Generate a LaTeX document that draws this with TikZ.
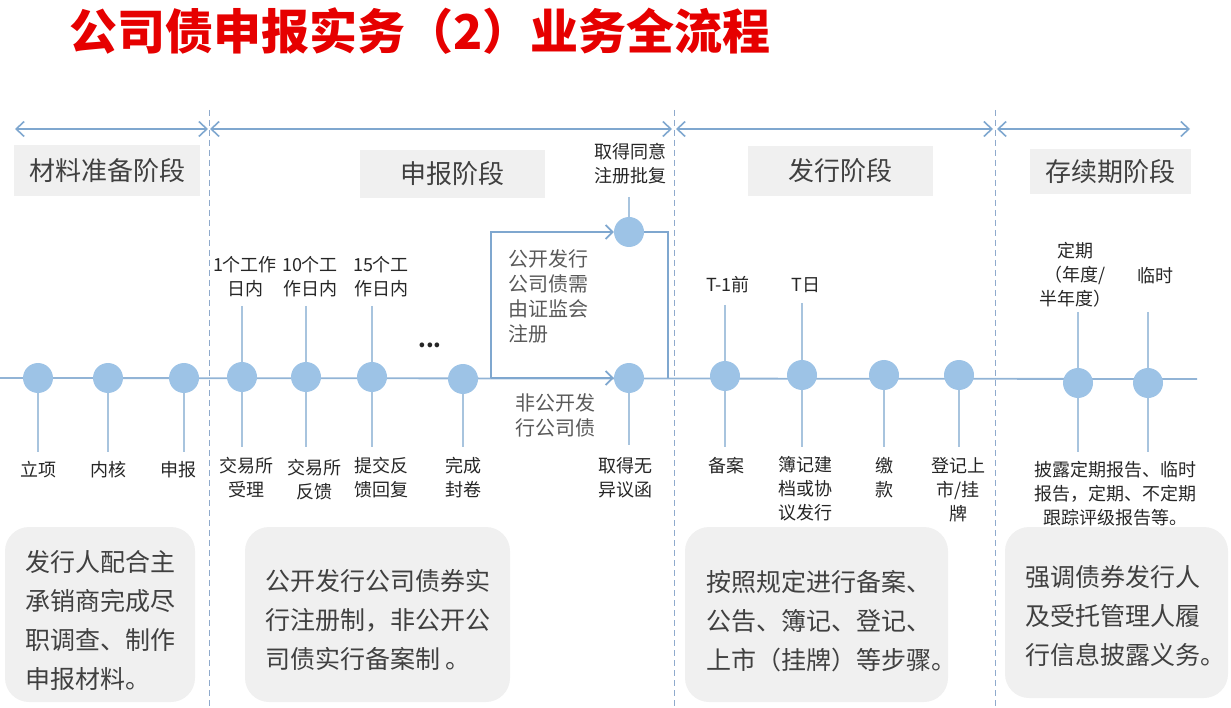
\documentclass[tikz,border=0pt]{standalone}
\usepackage{fontspec}
\setmainfont{Noto Sans CJK SC}
\usetikzlibrary{arrows.meta}
\definecolor{tred}{RGB}{230,0,0}
\definecolor{dotc}{RGB}{157,195,230}
\definecolor{linec}{RGB}{127,167,207}
\definecolor{tickc}{RGB}{168,196,222}
\definecolor{dashc}{RGB}{143,170,204}
\definecolor{boxc}{RGB}{240,240,240}
\definecolor{txt}{RGB}{38,38,38}
\definecolor{gtxt}{RGB}{64,64,64}
\definecolor{ntxt}{RGB}{89,89,89}
\begin{document}
\begin{tikzpicture}[x=1pt,y=-1pt,
  dot/.style={circle, fill=dotc, minimum size=30pt, inner sep=0pt},
  tick/.style={draw=tickc, line width=1.4pt},
  axis/.style={draw=linec!85, line width=1.8pt},
  flowline/.style={draw=linec, line width=1.8pt},
  barb/.style={-{Straight Barb[length=7pt,width=14pt]}},
  span/.style={draw=linec, line width=1.6pt, {Straight Barb[length=8pt,width=15pt]}-{Straight Barb[length=8pt,width=15pt]}},
  sep/.style={draw=dashc, dash pattern=on 6pt off 4pt, line width=0.9pt},
  stage/.style={fill=boxc, text=gtxt, font=\fontsize{26}{30}\selectfont, inner sep=0pt},
  lbl/.style={text=txt, font=\fontsize{18}{24}\selectfont, align=center, inner sep=0pt},
  note/.style={text=ntxt, font=\fontsize{20}{25}\selectfont, align=left, inner sep=0pt},
  card/.style={fill=boxc, rounded corners=24pt, inner sep=0pt},
  cardtxt/.style={text=gtxt, font=\fontsize{25}{39}\selectfont, align=left, inner sep=0pt, anchor=west}]
\useasboundingbox (0,0) rectangle (1231,708);

% title
\node[text=tred, font=\fontsize{48}{52}\selectfont\bfseries, inner sep=0pt] (title) at (420,31) {公司债申报实务（2）业务全流程};

% bottom cards
\node[card, minimum width=190pt, minimum height=175pt] (b1) at (100,614.5) {};
\node[card, minimum width=265pt, minimum height=175pt] (b2) at (377.5,614.5) {};
\node[card, minimum width=263pt, minimum height=175pt] (b3) at (816.5,614.5) {};
\node[card, minimum width=223pt, minimum height=171pt] (b4) at (1116.5,612.5) {};
\node[cardtxt] (t1) at (25,620) {发行人配合主\\承销商完成尽\\职调查、制作\\申报材料。};
\node[cardtxt] (t2) at (265,620) {公开发行公司债券实\\行注册制，非公开公\\司债实行备案制 。};
\node[cardtxt] (t3) at (706,621) {按照规定进行备案、\\公告、簿记、登记、\\上市（挂牌）等步骤。};
\node[cardtxt] (t4) at (1025,616) {强调债券发行人\\及受托管理人履\\行信息披露义务。};

% separators
\coordinate (d1a) at (209,110); \coordinate (d1b) at (209,708);
\coordinate (d2a) at (674,110); \coordinate (d2b) at (674,708);
\coordinate (d3a) at (995,110); \coordinate (d3b) at (995,708);
\draw[sep] (d1a) -- (d1b);
\draw[sep] (d2a) -- (d2b);
\draw[sep] (d3a) -- (d3b);

% top spans
\coordinate (p0) at (15,129);  \coordinate (p1) at (208,129);
\coordinate (p2) at (210,129); \coordinate (p3) at (672,129);
\coordinate (p4) at (676,129); \coordinate (p5) at (993,129);
\coordinate (p6) at (997,129); \coordinate (p7) at (1190,129);
\draw[span] (p0) -- (p1);
\draw[span] (p2) -- (p3);
\draw[span] (p4) -- (p5);
\draw[span] (p6) -- (p7);

% stage labels
\node[stage, minimum width=186pt, minimum height=51pt] (s1) at (107,171) {材料准备阶段};
\node[stage, minimum width=185pt, minimum height=48pt] (s2) at (452,174) {申报阶段};
\node[stage, minimum width=185pt, minimum height=50pt] (s3) at (840,171) {发行阶段};
\node[stage, minimum width=161pt, minimum height=45pt] (s4) at (1110,172) {存续期阶段};

% main axis
\coordinate (ax0) at (0,378); \coordinate (ax1) at (1197,379);
\draw[axis] (ax0) -- (ax1);

% ticks
\draw[tick] (38,378) -- (38,452);
\draw[tick] (108,378) -- (108,452);
\draw[tick] (184,378) -- (184,452);
\draw[tick] (242,306) -- (242,447);
\draw[tick] (306,306) -- (306,447);
\draw[tick] (372,306) -- (372,447);
\draw[tick] (463,378) -- (463,447);
\draw[tick] (629,378) -- (629,445);
\draw[tick] (629,197) -- (629,232);
\draw[tick] (725,305) -- (725,447);
\draw[tick] (802,303) -- (802,447);
\draw[tick] (884,378) -- (884,447);
\draw[tick] (959,378) -- (959,447);
\draw[tick] (1078,312) -- (1078,452);
\draw[tick] (1148,312) -- (1148,452);

% branch
\coordinate (split) at (491,378);
\coordinate (join) at (668,378);
\node[dot] (cu) at (629,232) {};
\node[dot] (cl) at (629,378) {};
\draw[flowline, barb] (split) |- (cu);
\draw[flowline, barb] (split) -- (cl);
\draw[flowline] (cu) -| (join);

% circles
\node[dot] (c1) at (38,378) {};
\node[dot] (c2) at (108,378) {};
\node[dot] (c3) at (184,378) {};
\node[dot] (c4) at (242,377) {};
\node[dot] (c5) at (306,377) {};
\node[dot] (c6) at (372,377) {};
\node[dot] (c7) at (463,379) {};
\node[dot] (c9) at (725,376) {};
\node[dot] (c10) at (802,375) {};
\node[dot] (c11) at (884,375) {};
\node[dot] (c12) at (959,375) {};
\node[dot] (c13) at (1078,383) {};
\node[dot] (c14) at (1148,383) {};

% labels below
\node[lbl] (l1) at (38,470) {立项};
\node[lbl] (l2) at (108,470) {内核};
\node[lbl] (l3) at (178,470) {申报};
\node[lbl] (l4) at (246,478) {交易所\\受理};
\node[lbl] (l5) at (314,480) {交易所\\反馈};
\node[lbl] (l6) at (381,478) {提交反\\馈回复};
\node[lbl] (l7) at (463,478) {完成\\封卷};
\node[lbl] (l8) at (625,478) {取得无\\异议函};
\node[lbl] (l9) at (726,466) {备案};
\node[lbl] (l10) at (805,489) {簿记建\\档或协\\议发行};
\node[lbl] (l11) at (884,478) {缴\\款};
\node[lbl] (l12) at (958,490) {登记上\\市/挂\\牌};
\node[lbl] (l13) at (1115,494) {披露定期报告、临时\\报告，定期、不定期\\跟踪评级报告等。};

% labels above
\node[lbl] (u4) at (245,277) {1个工作\\日内};
\node[lbl] (u5) at (310,277) {10个工\\作日内};
\node[lbl] (u6) at (381,277) {15个工\\作日内};
\node[lbl, font=\fontsize{22}{24}\selectfont\bfseries] (dots) at (430,345) {...};
\node[lbl] (uu) at (630,164) {取得同意\\注册批复};
\node[lbl] (u9) at (728,285) {T-1前};
\node[lbl] (u10) at (806,285) {T日};
\node[lbl] (u13) at (1075,275) {定期\\（年度/\\半年度）};
\node[lbl] (u14) at (1155,276) {临时};

% branch notes
\node[note, anchor=west] (n1) at (508,296) {公开发行\\公司债需\\由证监会\\注册};
\node[note, anchor=west] (n2) at (515,415) {非公开发\\行公司债};
\end{tikzpicture}
\end{document}
